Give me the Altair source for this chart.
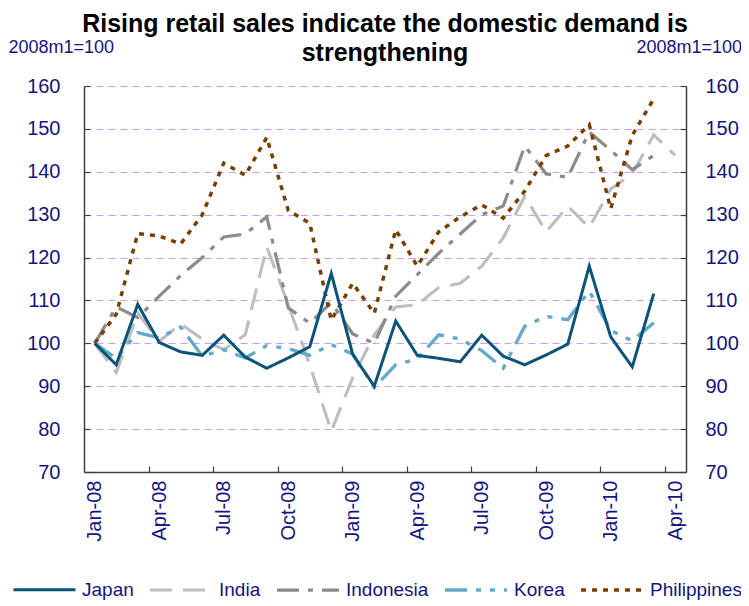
import altair as alt
import pandas as pd

months = ['Jan-08', 'Feb-08', 'Mar-08', 'Apr-08', 'May-08', 'Jun-08', 'Jul-08', 'Aug-08',
          'Sep-08', 'Oct-08', 'Nov-08', 'Dec-08', 'Jan-09', 'Feb-09', 'Mar-09', 'Apr-09',
          'May-09', 'Jun-09', 'Jul-09', 'Aug-09', 'Sep-09', 'Oct-09', 'Nov-09', 'Dec-09',
          'Jan-10', 'Feb-10', 'Mar-10', 'Apr-10']

japan = [100, 95.0, 109.1, 100.2, 98.0, 97.2, 101.9, 96.8, 94.2, 96.6, 99.2, 116.3, 97.4, 90.0,
         105.2, 97.2, 96.5, 95.7, 101.9, 97.0, 95.0, 97.3, 99.8, 118.0, 101.5, 94.5, 111.6]
india = [100, 93.2, 107.0, 100.5, 104.5, 101.0, 98.5, 102.0, 122.5, 109.0, 95.0, 79.5, 92.0, 102.0,
         108.5, 109.0, 113.0, 114.0, 118.0, 124.6, 134.3, 126.0, 132.0, 127.0, 136.0, 139.5, 148.6, 143.8]
indonesia = [100, 108.5, 106.0, 111.0, 115.8, 120.0, 124.8, 125.5, 129.5, 108.3, 104.7, 109.5, 102.2,
             100.0, 111.0, 116.0, 121.0, 125.5, 130.0, 132.0, 146.0, 139.5, 138.7, 149.3, 145.0, 140.5, 143.8]
korea = [100, 96.5, 102.5, 101.3, 103.8, 97.0, 98.5, 96.6, 99.5, 98.8, 97.2, 99.7, 97.5, 89.7,
         95.0, 96.4, 102.0, 101.0, 98.3, 94.2, 104.0, 106.3, 105.5, 112.2, 103.0, 100.6, 104.8]
philippines = [100, 106.8, 125.6, 125.0, 123.2, 130.0, 142.0, 139.2, 148.0, 131.0, 128.0, 105.4, 114.0,
               107.0, 126.5, 118.0, 126.0, 129.5, 132.3, 129.2, 135.5, 143.8, 146.0, 151.0, 131.4, 148.5, 157.0]

names = ['Japan', 'India', 'Indonesia', 'Korea', 'Philippines']
colors = ['#0A5479', '#BEBEBE', '#8C8C8C', '#65AACB', '#7A3E00']
dashes = [[1, 0], [22, 11], [22, 9, 5, 9], [22, 9, 5, 9, 5, 9], [5, 6]]
widths = [3, 3.5, 3.5, 3.5, 3.5]

y_ticks = list(range(70, 161, 10))
x_label_pos = list(range(0, 28, 3))
x_tick_pos = [2.5 + 3 * k for k in range(9)]

series = [('India', india), ('Indonesia', indonesia), ('Philippines', philippines),
          ('Korea', korea), ('Japan', japan)]
rows = []
for name, vals in series:
    for i, v in enumerate(vals):
        rows.append({'series': name, 'm': i, 'v': v})
df = pd.DataFrame(rows)

navy = '#141482'
font = 'Liberation Sans'
axis_col = '#404040'

x_scale = alt.Scale(domain=[-0.5, 27.5], nice=False, zero=False)
y_scale = alt.Scale(domain=[70, 160], nice=False, zero=False)

label_expr = '[' + ','.join("'%s'" % m for m in months) + '][datum.value]'

legend = alt.Legend(title=None, orient='none', legendX=-72, legendY=471, direction='horizontal',
                    symbolType='stroke', symbolSize=3844, symbolStrokeWidth=3,
                    labelFontSize=19, labelColor=navy, labelFont=font, labelOffset=5,
                    columnPadding=9, padding=0, labelLimit=300)

lines = alt.Chart(df).mark_line(strokeCap='butt', strokeJoin='miter').encode(
    x=alt.X('m:Q', scale=x_scale, axis=alt.Axis(
        orient='bottom', values=x_label_pos, labelExpr=label_expr, labelAngle=270,
        labelFontSize=20, labelColor=navy, labelFont=font, labelFlush=False, labelPadding=8,
        labelOverlap=False, ticks=False, domain=True, domainColor=axis_col, domainWidth=1.5,
        grid=False, title=None)),
    y=alt.Y('v:Q', scale=y_scale, axis=alt.Axis(
        orient='left', values=y_ticks, labelFontSize=20, labelColor=navy, labelFont=font,
        labelPadding=24, ticks=False, domain=True, domainColor=axis_col, domainWidth=1.5,
        grid=True, gridColor='#CC99FF', gridDash=[7, 5], gridWidth=1,
        title='2008m1=100', titleAngle=0, titleX=-76, titleY=-39, titleAlign='left',
        titleBaseline='middle', titleFontSize=18, titleFontWeight='normal', titleColor=navy,
        titleFont=font)),
    color=alt.Color('series:N', scale=alt.Scale(domain=names, range=colors), legend=legend),
    strokeDash=alt.StrokeDash('series:N', scale=alt.Scale(domain=names, range=dashes), legend=legend),
    strokeWidth=alt.StrokeWidth('series:N', scale=alt.Scale(domain=names, range=widths), legend=None),
    order=alt.Order('m:Q'),
)

anchor_df = pd.DataFrame({'m': [0], 'v': [100]})

right_axis = alt.Chart(anchor_df).mark_point(opacity=0).encode(
    x=alt.X('m:Q', scale=x_scale, axis=alt.Axis(
        orient='top', offset=-386, values=x_tick_pos, labels=False, domain=False, ticks=True,
        tickSize=6, tickColor=axis_col, tickWidth=1.2, grid=False, title=None)),
    y=alt.Y('v:Q', scale=y_scale, axis=alt.Axis(
        orient='right', values=y_ticks, labelFontSize=20, labelColor=navy, labelFont=font,
        labelPadding=19, ticks=False, domain=True, domainColor=axis_col, domainWidth=1.5,
        grid=False, title='2008m1=100', titleAngle=0, titleX=-50, titleY=-39, titleAlign='left',
        titleBaseline='middle', titleFontSize=18, titleFontWeight='normal', titleColor=navy,
        titleFont=font)),
)

left_ticks = alt.Chart(anchor_df).mark_point(opacity=0).encode(
    x=alt.X('m:Q', scale=x_scale, axis=None),
    y=alt.Y('v:Q', scale=y_scale, axis=alt.Axis(
        orient='right', offset=-602, values=y_ticks, labels=False, domain=False, ticks=True,
        tickSize=6, tickColor=axis_col, tickWidth=1.2, grid=False, title=None)),
)

right_ticks = alt.Chart(anchor_df).mark_point(opacity=0).encode(
    x=alt.X('m:Q', scale=x_scale, axis=None),
    y=alt.Y('v:Q', scale=y_scale, axis=alt.Axis(
        orient='left', offset=-602, values=y_ticks, labels=False, domain=False, ticks=True,
        tickSize=6, tickColor=axis_col, tickWidth=1.2, grid=False, title=None)),
)

chart = alt.layer(lines, right_axis, left_ticks, right_ticks).resolve_axis(
    x='independent', y='independent'
).properties(
    width=602, height=386,
    autosize=alt.AutoSizeParams(type='none'),
    padding={'left': 76, 'top': 78, 'right': 55, 'bottom': 134},
    title=alt.TitleParams(
        text=['Rising retail sales indicate the domestic demand is', 'strengthening'],
        fontSize=25, font=font, fontWeight='bold', color='black', anchor='middle',
        lineHeight=29, offset=-28),
).configure_view(stroke=None)

chart.save('out.html', embed_options={'renderer': 'svg', 'actions': False})
